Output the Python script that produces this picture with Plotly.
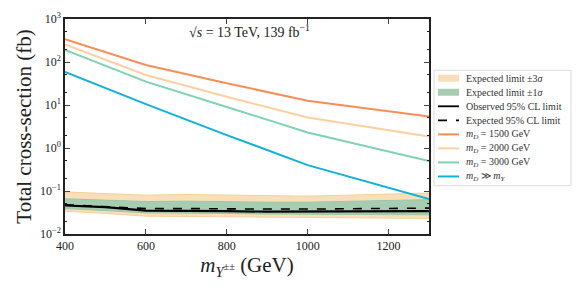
import plotly.graph_objects as go

# Theory curves
m_th = [400, 600, 800, 1000, 1300]
xs_1500 = [340, 85, 32, 12.6, 5.4]
xs_2000 = [255, 50, 15.5, 5.1, 1.85]
xs_3000 = [190, 35, 9.0, 2.3, 0.5]
xs_inf = [59, 10.5, 2.0, 0.40, 0.065]

# Limits
m_lim = [400, 500, 600, 700, 800, 900, 1000, 1100, 1200, 1300]
s3_hi = [0.095, 0.088, 0.080, 0.083, 0.080, 0.078, 0.076, 0.080, 0.085, 0.090]
s3_lo = [0.034, 0.030, 0.026, 0.026, 0.025, 0.025, 0.0245, 0.024, 0.0235, 0.023]
s1_hi = [0.066, 0.061, 0.057, 0.058, 0.056, 0.055, 0.055, 0.057, 0.060, 0.063]
s1_lo = [0.039, 0.035, 0.031, 0.031, 0.030, 0.029, 0.028, 0.028, 0.028, 0.028]
exp_lim = [0.048, 0.044, 0.039, 0.039, 0.038, 0.038, 0.038, 0.039, 0.040, 0.040]
obs_lim = [0.046, 0.042, 0.035, 0.035, 0.034, 0.033, 0.033, 0.034, 0.034, 0.034]

ytick_vals = [1e-2, 1e-1, 1, 10, 100, 1000]
ytick_text = ["10<sup>−2</sup>", "10<sup>−1</sup>", "10<sup>0</sup>", "10<sup>1</sup>", "10<sup>2</sup>", "10<sup>3</sup>"]
xtick_vals = [400, 600, 800, 1000, 1200]

legend_names = ["Expected limit ±3<i>σ</i>", "Expected limit ±1<i>σ</i>",
                "Observed 95% CL limit", "Expected 95% CL limit",
                "<i>m<sub>D</sub></i> = 1500 GeV", "<i>m<sub>D</sub></i> = 2000 GeV",
                "<i>m<sub>D</sub></i> = 3000 GeV", "<i>m<sub>D</sub></i> ≫ <i>m<sub>Y</sub></i>"]

FONT = "Liberation Serif"
C3, C3E = "#f9dfb9", "#f6cf98"
C1, C1E = "#a6cdb1", "#9cc8a8"
C1500, C2000, C3000, CINF = "#f58f5a", "#fdd0a2", "#80d2b0", "#12b2d8"

# plot area in pixels
W, H = 581, 291
L, R, T, B = 65, 429, 18.5, 234.5

fig = go.Figure()
fig.add_trace(go.Scatter(x=m_lim + m_lim[::-1], y=s3_hi + s3_lo[::-1], fill="toself",
                         fillcolor=C3, line=dict(color=C3E, width=1), mode="lines",
                         name=legend_names[0], showlegend=False))
fig.add_trace(go.Scatter(x=m_lim + m_lim[::-1], y=s1_hi + s1_lo[::-1], fill="toself",
                         fillcolor=C1, line=dict(color=C1E, width=1), mode="lines",
                         name=legend_names[1], showlegend=False))
fig.add_trace(go.Scatter(x=m_lim, y=obs_lim, mode="lines", line=dict(color="black", width=2.2),
                         name=legend_names[2], showlegend=False))
fig.add_trace(go.Scatter(x=m_lim, y=exp_lim, mode="lines", line=dict(color="black", width=1.6, dash="dash"),
                         name=legend_names[3], showlegend=False))
fig.add_trace(go.Scatter(x=m_th, y=xs_1500, mode="lines", line=dict(color=C1500, width=2),
                         name=legend_names[4], showlegend=False))
fig.add_trace(go.Scatter(x=m_th, y=xs_2000, mode="lines", line=dict(color=C2000, width=2),
                         name=legend_names[5], showlegend=False))
fig.add_trace(go.Scatter(x=m_th, y=xs_3000, mode="lines", line=dict(color=C3000, width=2),
                         name=legend_names[6], showlegend=False))
fig.add_trace(go.Scatter(x=m_th, y=xs_inf, mode="lines", line=dict(color=CINF, width=2),
                         name=legend_names[7], showlegend=False))


def px(xp):
    return (xp - L) / (R - L)


def py(yp):
    return (B - yp) / (B - T)


shapes = []
annotations = []
# legend frame
shapes.append(dict(type="rect", xref="paper", yref="paper", x0=px(434), x1=px(571),
                   y0=py(186), y1=py(70), line=dict(color="#dcdcdc", width=1), fillcolor="white",
                   layer="above"))
legend_styles = [
    ("box", C3, None), ("box", C1, None),
    ("line", "black", "solid"), ("line", "black", "dash"),
    ("line", C1500, "solid"), ("line", C2000, "solid"),
    ("line", C3000, "solid"), ("line", CINF, "solid"),
]
for i, (name, (kind, col, dash)) in enumerate(zip(legend_names, legend_styles)):
    yc = 78 + 14.1 * i
    if kind == "box":
        shapes.append(dict(type="rect", xref="paper", yref="paper", x0=px(438), x1=px(459),
                           y0=py(yc + 3.5), y1=py(yc - 3.5), line=dict(width=0),
                           fillcolor=col, layer="above"))
    else:
        shapes.append(dict(type="line", xref="paper", yref="paper", x0=px(438), x1=px(459),
                           y0=py(yc), y1=py(yc), layer="above",
                           line=dict(color=col, width=2 if col != "black" else 1.8, dash=dash)))
    annotations.append(dict(text=name, x=px(464), y=py(yc), xref="paper", yref="paper",
                            xanchor="left", yanchor="middle", showarrow=False,
                            font=dict(family=FONT, size=10, color="#333")))

annotations.append(dict(text="√<i>s</i> = 13 TeV, 139 fb<sup>−1</sup>", x=px(249), y=py(20),
                        xref="paper", yref="paper", xanchor="center", yanchor="top",
                        showarrow=False, font=dict(family=FONT, size=14, color="#222")))

fig.update_layout(
    width=W, height=H,
    margin=dict(l=L, r=W - R, t=T, b=H - B, autoexpand=False),
    paper_bgcolor="white", plot_bgcolor="white",
    font=dict(family=FONT, color="#222", size=12),
    showlegend=False,
    shapes=shapes,
    annotations=annotations,
)
fig.update_xaxes(range=[400, 1300], tickvals=xtick_vals, ticks="inside", ticklen=5,
                 mirror="allticks", showline=True, linecolor="#222", linewidth=1.5,
                 showgrid=False, zeroline=False,
                 title=dict(text="<i>m</i><sub><i>Y</i><sup>±±</sup></sub> (GeV)",
                            font=dict(family=FONT, size=21), standoff=2),
                 tickfont=dict(family=FONT, size=12))
fig.update_yaxes(type="log", range=[-2, 3], tickvals=ytick_vals, ticktext=ytick_text,
                 ticks="inside", ticklen=5, mirror="allticks", showline=True,
                 linecolor="#222", linewidth=1.5, showgrid=False, zeroline=False,
                 minor=dict(ticks="inside", ticklen=2.5, tickcolor="#222", showgrid=False),
                 title=dict(text="Total cross-section (fb)", font=dict(family=FONT, size=21), standoff=3),
                 tickfont=dict(family=FONT, size=12))

fig.write_html("out.html", config={"displayModeBar": False},
               post_script="document.body.style.margin='0';document.body.style.padding='0';")
